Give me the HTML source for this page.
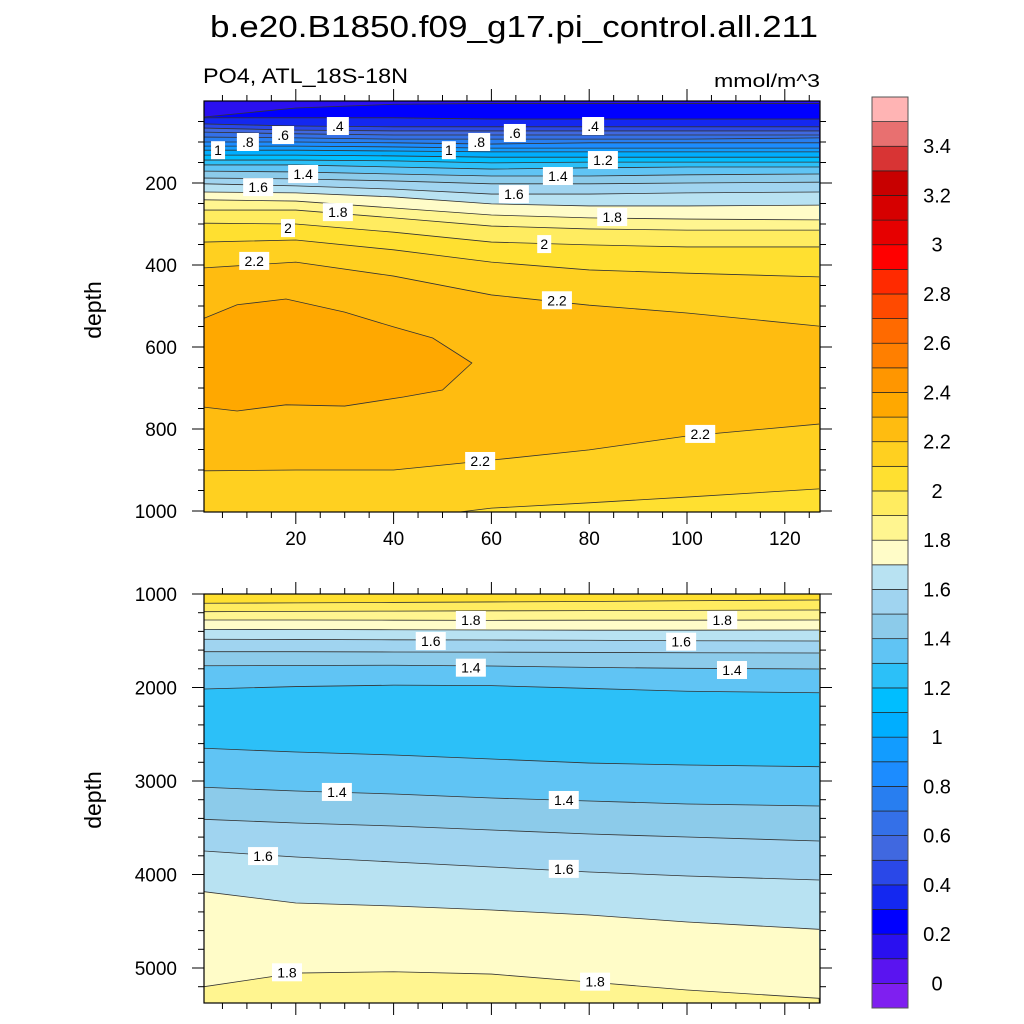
<!DOCTYPE html>
<html><head><meta charset="utf-8"><style>
html,body{margin:0;padding:0;background:#fff;}
svg{display:block;font-family:"Liberation Sans",sans-serif;}
</style></head><body>
<svg id="chart" width="1024" height="1024" viewBox="0 0 1024 1024" xmlns="http://www.w3.org/2000/svg">
<text x="210" y="37" font-size="31" textLength="608" lengthAdjust="spacingAndGlyphs">b.e20.B1850.f09_g17.pi_control.all.211</text>
<text x="203" y="83" font-size="21" textLength="205" lengthAdjust="spacingAndGlyphs">PO4, ATL_18S-18N</text>
<text x="820" y="87" font-size="18" text-anchor="end" textLength="106" lengthAdjust="spacingAndGlyphs">mmol/m^3</text>
<text transform="translate(101,310) rotate(-90)" font-size="23" text-anchor="middle">depth</text>
<text transform="translate(101,800) rotate(-90)" font-size="23" text-anchor="middle">depth</text>
<g id="top"></g><g id="bot"></g><g id="cbar"></g>
</svg>
<script>
const NS="http://www.w3.org/2000/svg";
const xSamples=[1,20,40,60,80,100,127];
// Top panel contour depths (m) at xSamples, ordered top->bottom; color of band below each line
const topLevels=[0.2,0.3,0.4,0.5,0.6,0.7,0.8,0.9,1.0,1.1,1.2,1.3,1.4,1.5,1.6,1.7,1.8,1.9,2.0,2.1,2.2,2.2,2.1];
const topDepths=[
[39,17,8,6,6,6,6],[41,41,41,44,44,44,44],[56,61,63,63,63,63,63],[66,71,73,73,73,73,73],
[76,80,83,83,83,83,83],[88,90,93,93,93,93,90],[100,100,102,105,102,102,102],[110,110,112,115,115,115,115],
[120,120,122,124,124,124,124],[132,132,134,137,137,137,137],[144,144,146,151,149,149,149],[156,156,161,166,163,161,161],
[171,173,178,183,183,180,178],[188,190,195,202,202,200,198],[202,207,215,227,227,224,222],[222,224,234,251,256,256,254],
[241,244,261,278,285,288,290],[266,266,285,305,312,315,315],[298,300,320,344,351,356,356],[344,339,363,393,412,420,429],
[407,393,427,473,498,517,549],[902,900,900,876,851,817,788],[1022,1022,1022,993,980,966,946]];
const topBandsBelow=[0.25,0.35,0.45,0.55,0.65,0.75,0.85,0.95,1.05,1.15,1.25,1.35,1.45,1.55,1.65,1.75,1.85,1.95,2.05,2.15,2.25,2.15,2.05];
const topTopValue=0.15;
// closed 2.3 region
const blobUpperX=[1,8,18,30,40,48,56], blobUpperD=[532,497,483,515,551,578,639];
const blobLowerX=[1,8,18,30,42,50,56], blobLowerD=[746,756,741,744,722,705,639];
const blobValue=2.35;
// Bottom panel
const botLevels=[2.0,1.9,1.8,1.7,1.6,1.5,1.4,1.3,1.3,1.4,1.5,1.6,1.7];
const botDepths=[
[1099,1095,1090,1085,1080,1072,1064],[1189,1186,1183,1180,1178,1175,1171],[1278,1278,1280,1282,1280,1280,1278],
[1378,1380,1382,1385,1387,1387,1385],[1484,1486,1490,1492,1495,1500,1503],[1617,1617,1620,1622,1625,1628,1631],
[1767,1765,1762,1770,1785,1795,1802],[2016,1990,1975,1980,2010,2040,2056],[2650,2690,2722,2765,2808,2829,2847],
[3067,3107,3139,3182,3214,3246,3267],[3410,3449,3481,3524,3567,3599,3642],[3749,3813,3866,3920,3973,4016,4059],
[4184,4305,4337,4380,4433,4508,4586]];
const botBandsBelow=[1.95,1.85,1.75,1.65,1.55,1.45,1.35,1.25,1.35,1.45,1.55,1.65,1.75];
const botTopValue=2.05;
const bot18X=[1,20,40,60,80,100,127], bot18D=[5200,5054,5040,5065,5150,5235,5324];
const bot18Value=1.85;
// labels
const topLabelText=["1",".8",".6",".4","1.4","1.6","1.8","2","2.2","1",".8",".6",".4","1.2","1.4","1.6","1.8","2","2.2","2.2","2.2"];
const topLabelX=[4.1,10.2,17.4,28.6,21.5,12.3,28.6,18.4,11.5,51.3,57.5,64.8,80.8,82.8,73.6,64.6,84.7,70.8,73.4,102.7,57.7];
const topLabelD=[120,100,83,61,178,210,271,310,390,120,100,78,61,144,183,227,283,349,486,812,878];
const botLabelText=["1.8","1.8","1.6","1.6","1.4","1.4","1.4","1.4","1.6","1.6","1.8","1.8"];
const botLabelX=[55.8,107.2,47.6,98.8,55.8,109.2,28.4,74.8,13.3,74.8,18.2,81.2];
const botLabelD=[1278,1278,1503,1510,1788,1813,3117,3203,3803,3940,5046,5146];
// colorbar
const cbLevels=[0,0.2,0.4,0.6,0.8,1,1.2,1.4,1.6,1.8,2,2.2,2.4,2.6,2.8,3,3.2,3.4];
const cbColors=["#7F1FF0","#5A14F0","#2A10F0","#0000FF","#1428F0","#2A48E8","#4068E0","#3470E8","#287EF0","#1C8CFF","#129CFF","#00AEFF","#00BEFF","#2CC0F8","#60C4F4","#8CCBEA","#A0D4F0","#B8E2F2","#FFFCC8","#FFF590","#FFEC60","#FFE030","#FFD020","#FFBC10","#FFA800","#FF9600","#FF7F00","#FF6A00","#FF4A00","#FF2A00","#FF0000","#E60000","#D60000","#C80000","#D83434","#E87070","#FFB4B4"];
function colorFor(v){let i=Math.floor(v*10+1e-6)+1;return cbColors[Math.max(0,Math.min(cbColors.length-1,i))];}

const P={L:204,R:820};
const xScale=x=>198+(x*4.89);
const topY=d=>101+d*0.41, topB=512, topT=101;
const botY=d=>594+(d-1000)*0.0935, botB=1003, botT=594;
function mk(parent,tag,attrs){const e=document.createElementNS(NS,tag);for(const k in attrs)e.setAttribute(k,attrs[k]);parent.appendChild(e);return e;}
function clampX(x){return Math.max(P.L,Math.min(P.R,x));}
function linePts(xs,ds,ys){return xs.map((x,i)=>[clampX(xScale(x)),ys(ds[i])]);}

function panel(gid,levels,depths,below,topVal,ys,T,B,name){
  const g=document.getElementById(gid);
  const cp=mk(g,'clipPath',{id:gid+'clip'});mk(cp,'rect',{x:P.L,y:T,width:P.R-P.L,height:B-T});
  const fills=mk(g,'g',{'clip-path':`url(#${gid}clip)`});
  const bg=mk(fills,'rect',{x:P.L,y:T,width:P.R-P.L,height:B-T,fill:colorFor(topVal)});
  
  
  levels.forEach((lv,i)=>{
    const pts=linePts(xSamples,depths[i],ys);
    const poly=pts.concat([[P.R,B+20],[P.L,B+20]]);
    const e=mk(fills,'polygon',{points:poly.map(p=>p.join(',')).join(' '),fill:colorFor(below[i])});
    
    
  });
  return {g,fills};
}
function strokeLines(fills,levels,depths,ys,name){
  levels.forEach((lv,i)=>{
    const pts=linePts(xSamples,depths[i],ys);
    const e=mk(fills,'polyline',{points:pts.map(p=>p.join(',')).join(' '),fill:'none',stroke:'#333','stroke-width':0.8});
    
    
  });
}
function labels(g,txt,xs,ds,ys,name){
  txt.forEach((t,i)=>{
    const cx=xScale(xs[i]),cy=ys(ds[i]);
    const w=t.length*8+6;
    const r=mk(g,'rect',{x:cx-w/2,y:cy-9,width:w,height:18,fill:'#fff'});
    
    
    const e=mk(g,'text',{x:cx,y:cy+5,'font-size':14,'text-anchor':'middle'});
    e.textContent=t;
    
    
  });
}
function axes(g,T,B,yTicks,yMinor,ys,xLabels,name){
  mk(g,'rect',{x:P.L,y:T,width:P.R-P.L,height:B-T,fill:'none',stroke:'#000','stroke-width':1.2});
  for(let x=5;x<=125;x+=5){
    const px=xScale(x),maj=x%20===0,len=maj?12:6;
    mk(g,'line',{x1:px,x2:px,y1:B,y2:B+len,stroke:'#000','stroke-width':1});
    mk(g,'line',{x1:px,x2:px,y1:T,y2:T-len,stroke:'#000','stroke-width':1});
    if(maj&&xLabels){const t=mk(g,'text',{x:px,y:B+33,'font-size':19,'text-anchor':'middle'});t.textContent=x;
      
      }
  }
  yMinor.forEach(d=>{const py=ys(d);if(py<T-0.5||py>B+0.5)return;
    mk(g,'line',{x1:P.L-6,x2:P.L,y1:py,y2:py,stroke:'#000','stroke-width':1});
    mk(g,'line',{x1:P.R,x2:P.R+6,y1:py,y2:py,stroke:'#000','stroke-width':1});});
  yTicks.forEach(d=>{const py=ys(d);
    mk(g,'line',{x1:P.L-12,x2:P.L,y1:py,y2:py,stroke:'#000','stroke-width':1});
    mk(g,'line',{x1:P.R,x2:P.R+12,y1:py,y2:py,stroke:'#000','stroke-width':1});
    const t=mk(g,'text',{x:P.L-27,y:py+7,'font-size':19,'text-anchor':'end'});t.textContent=d;
    
    });
}
// Top panel
const tp=panel('top',topLevels,topDepths,topBandsBelow,topTopValue,topY,topT,topB,'top');
{const up=blobUpperX.map((x,i)=>[xScale(x),topY(blobUpperD[i])]);
 const lo=blobLowerX.map((x,i)=>[xScale(x),topY(blobLowerD[i])]).reverse();
 up[0][0]=P.L-2;lo[lo.length-1][0]=P.L-2;
 const e=mk(tp.fills,'polygon',{points:up.concat(lo).map(p=>p.join(',')).join(' '),fill:colorFor(blobValue),stroke:'#333','stroke-width':0.8});
 
 }
strokeLines(tp.fills,topLevels,topDepths,topY,'top');
labels(tp.g,topLabelText,topLabelX,topLabelD,topY,'top');
const tMin=[];for(let d=50;d<=1000;d+=50)tMin.push(d);
axes(tp.g,topT,topB,[200,400,600,800,1000],tMin,topY,true,'top');
// Bottom panel
const bp=panel('bot',botLevels,botDepths,botBandsBelow,botTopValue,botY,botT,botB,'bottom');
{const pts=bot18X.map((x,i)=>[clampX(xScale(x)),botY(bot18D[i])]);
 const e=mk(bp.fills,'polygon',{points:pts.concat([[P.R,botB+10],[P.L,botB+10]]).map(p=>p.join(',')).join(' '),fill:colorFor(bot18Value),stroke:'#333','stroke-width':0.8});
 
 }
strokeLines(bp.fills,botLevels,botDepths,botY,'bottom');
labels(bp.g,botLabelText,botLabelX,botLabelD,botY,'bottom');
const bMin=[];for(let d=1000;d<=5400;d+=200)bMin.push(d);
axes(bp.g,botT,botB,[1000,2000,3000,4000,5000],bMin,botY,false,'bottom');
// Colorbar
{const g=document.getElementById('cbar');const top=97,bot=1008,n=cbColors.length,h=(bot-top)/n;
 cbColors.forEach((c,i)=>{const y=bot-(i+1)*h;
   const r=mk(g,'rect',{x:872,y:y,width:36,height:h,fill:c,stroke:'#222','stroke-width':0.7});
   
   });
 cbLevels.forEach(v=>{const y=bot-(Math.round(v*10)+1)*h;
   const t=mk(g,'text',{x:937,y:y+7,'font-size':20,'text-anchor':'middle'});t.textContent=String(v);
   
   });
 mk(g,'rect',{x:872,y:top,width:36,height:bot-top,fill:'none',stroke:'#555','stroke-width':1});}
</script>
</body></html>
